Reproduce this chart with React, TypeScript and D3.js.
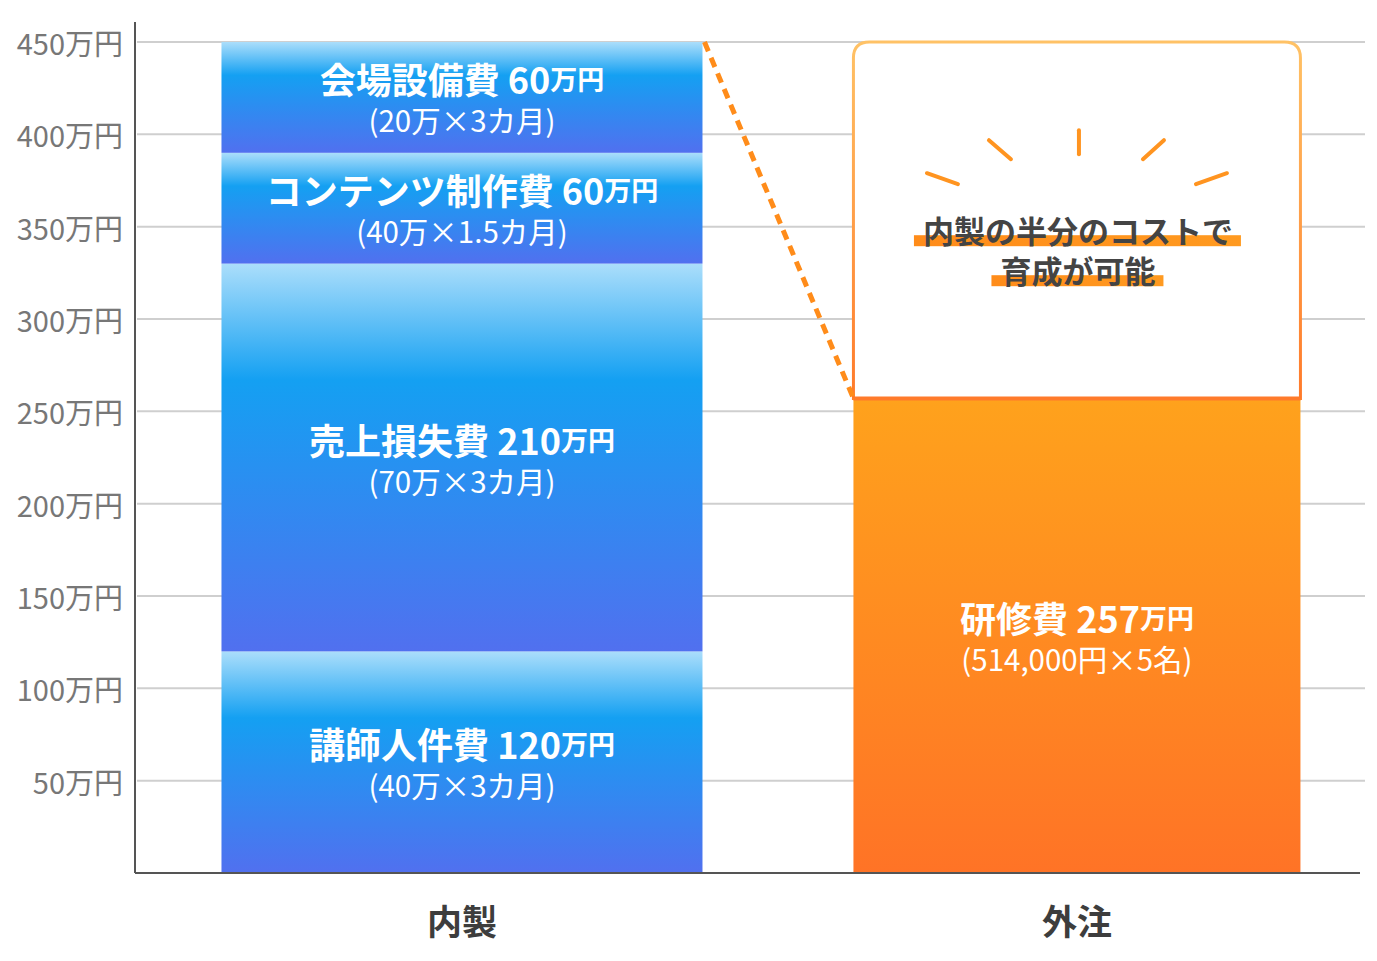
import { useEffect } from 'react';
import * as d3 from 'd3';

// chart data
const categories = ['内製', '外注'];
const inhouseItems = ['講師人件費', '売上損失費', 'コンテンツ制作費', '会場設備費'];
const inhouseValues = [120, 210, 60, 60];
const inhouseNotes = ['(40万×3カ月)', '(70万×3カ月)', '(40万×1.5カ月)', '(20万×3カ月)'];
const outsourceItems = ['研修費'];
const outsourceValues = [257];
const outsourceNotes = ['(514,000円×5名)'];
const yTicks = [50, 100, 150, 200, 250, 300, 350, 400, 450];
const yMax = 450;
const calloutLines = ['内製の半分のコストで', '育成が可能'];

const width = 1377;
const height = 961;
const margin = { top: 42, right: 17, bottom: 88, left: 135 };
const FONT = '"Noto Sans CJK JP", "Noto Sans", sans-serif';

// rays above the callout text, relative to box centre (dx1, dy1, dx2, dy2)
const rays = [
  [-150, -47, -119, -36],
  [-88, -80, -66, -61],
  [2, -90, 2, -66],
  [87, -80, 66, -61],
  [150, -47, 119, -36],
];

const App = () => {
  useEffect(() => {
    document.body.style.margin = '0';
  }, []);

  const y = d3.scaleLinear().domain([0, yMax]).range([height - margin.bottom, margin.top]);
  const x = d3.scalePoint<string>()
    .domain(categories)
    .range([margin.left, width - margin.right])
    .padding(0.496)
    .align(0.536);
  const halfW: Record<string, number> = { '内製': 240.5, '外注': 223.5 };

  const inStack = inhouseValues.map((v, i) => {
    const y0 = d3.sum(inhouseValues.slice(0, i));
    return { name: inhouseItems[i], value: v, note: inhouseNotes[i], y0, y1: y0 + v };
  });
  const outStack = outsourceValues.map((v, i) => {
    const y0 = d3.sum(outsourceValues.slice(0, i));
    return { name: outsourceItems[i], value: v, note: outsourceNotes[i], y0, y1: y0 + v };
  });

  const cx0 = x(categories[0])!;
  const cx1 = x(categories[1])!;
  const bar0L = cx0 - halfW[categories[0]];
  const bar0R = cx0 + halfW[categories[0]];
  const bar1L = cx1 - halfW[categories[1]];
  const bar1R = cx1 + halfW[categories[1]];
  const outTop = y(d3.sum(outsourceValues));
  const boxTop = y(yMax);
  const r = 16;
  const boxPath = `M${bar1L},${outTop} V${boxTop + r} Q${bar1L},${boxTop} ${bar1L + r},${boxTop} H${bar1R - r} Q${bar1R},${boxTop} ${bar1R},${boxTop + r} V${outTop} Z`;
  const boxCy = (boxTop + outTop) / 2;

  const label = (cx: number, s: { name: string; value: number; note: string; y0: number; y1: number }, key: string) => {
    const cy = (y(s.y0) + y(s.y1)) / 2;
    return (
      <g key={key} fill="#fff" fontFamily={FONT} textAnchor="middle">
        <text x={cx} y={cy - 19} dominantBaseline="central" fontSize={36} fontWeight="bold">
          {s.name} {s.value}<tspan fontSize={27}>万円</tspan>
        </text>
        <text x={cx} y={cy + 22} dominantBaseline="central" fontSize={29.5}>{s.note}</text>
      </g>
    );
  };

  return (
    <svg width={width} height={height} style={{ display: 'block', background: '#fff' }}>
      <defs>
        <linearGradient id="blueGrad" x1="0" y1="0" x2="0" y2="1">
          <stop offset="0" stopColor="#abdefb" />
          <stop offset="0.3" stopColor="#14a0f2" />
          <stop offset="1" stopColor="#5170ef" />
        </linearGradient>
        <linearGradient id="orangeGrad" x1="0" y1="0" x2="0" y2="1">
          <stop offset="0" stopColor="#ffa21c" />
          <stop offset="1" stopColor="#ff7326" />
        </linearGradient>
        <linearGradient id="borderGrad" x1="0" y1="0" x2="0" y2="1">
          <stop offset="0" stopColor="#ffc266" />
          <stop offset="1" stopColor="#ff7a2a" />
        </linearGradient>
        <linearGradient id="markGrad" x1="0" y1="0" x2="1" y2="0">
          <stop offset="0" stopColor="#ff8c1a" />
          <stop offset="1" stopColor="#ff9a20" />
        </linearGradient>
      </defs>

      {/* gridlines */}
      {yTicks.map(t => (
        <line key={t} x1={margin.left + 2} x2={width - 12} y1={y(t)} y2={y(t)} stroke="#cfcfcf" strokeWidth={2} />
      ))}

      {/* y tick labels */}
      {yTicks.map(t => (
        <text key={'l' + t} x={margin.left - 12} y={y(t)} dominantBaseline="central" textAnchor="end"
          fontFamily={FONT} fontSize={29} fill="#777">{t}万円</text>
      ))}

      {/* inhouse stacked bar */}
      {inStack.map((s, i) => (
        <rect key={'in' + i} x={bar0L} width={bar0R - bar0L} y={y(s.y1)} height={y(s.y0) - y(s.y1)} fill="url(#blueGrad)" />
      ))}

      {/* callout box */}
      <path d={boxPath} fill="#fff" stroke="url(#borderGrad)" strokeWidth={3} />
      {rays.map((d, i) => (
        <line key={'ray' + i} x1={cx1 + d[0]} y1={boxCy + d[1]} x2={cx1 + d[2]} y2={boxCy + d[3]}
          stroke="#ff9420" strokeWidth={4} strokeLinecap="round" />
      ))}
      {calloutLines.map((t, i) => {
        const w = t.length * 31;
        const ty = boxCy + 9 + i * 40;
        return (
          <g key={'c' + i}>
            <rect x={cx1 - w / 2 - 8} y={ty + 6} width={w + 17} height={11} fill="url(#markGrad)" />
            <text x={cx1 + 1} y={ty} dominantBaseline="central" textAnchor="middle" fontFamily={FONT}
              fontSize={31} fontWeight="bold" fill="#444">{t}</text>
          </g>
        );
      })}

      {/* outsource bar */}
      {outStack.map((s, i) => (
        <rect key={'out' + i} x={bar1L} width={bar1R - bar1L} y={y(s.y1)} height={y(s.y0) - y(s.y1)} fill="url(#orangeGrad)" />
      ))}
      <line x1={bar1L} x2={bar1R} y1={outTop} y2={outTop} stroke="#ff7a2a" strokeWidth={4} />

      {/* connector */}
      <line x1={bar0R + 2} y1={y(yMax)} x2={bar1L} y2={outTop} stroke="#ff8c1a" strokeWidth={5} strokeDasharray="10 7" />

      {/* labels */}
      {inStack.map((s, i) => label(cx0, s, 'inl' + i))}
      {outStack.map((s, i) => label(cx1, s, 'outl' + i))}

      {/* axes */}
      <line x1={margin.left} x2={margin.left} y1={22} y2={y(0)} stroke="#555" strokeWidth={2} />
      <line x1={margin.left} x2={width - margin.right} y1={y(0)} y2={y(0)} stroke="#555" strokeWidth={2} />
      {categories.map(c => (
        <text key={c} x={x(c)} y={y(0) + 46} dominantBaseline="central" textAnchor="middle"
          fontFamily={FONT} fontSize={35} fontWeight="bold" fill="#3d3d3d">{c}</text>
      ))}
    </svg>
  );
};

export default App;
